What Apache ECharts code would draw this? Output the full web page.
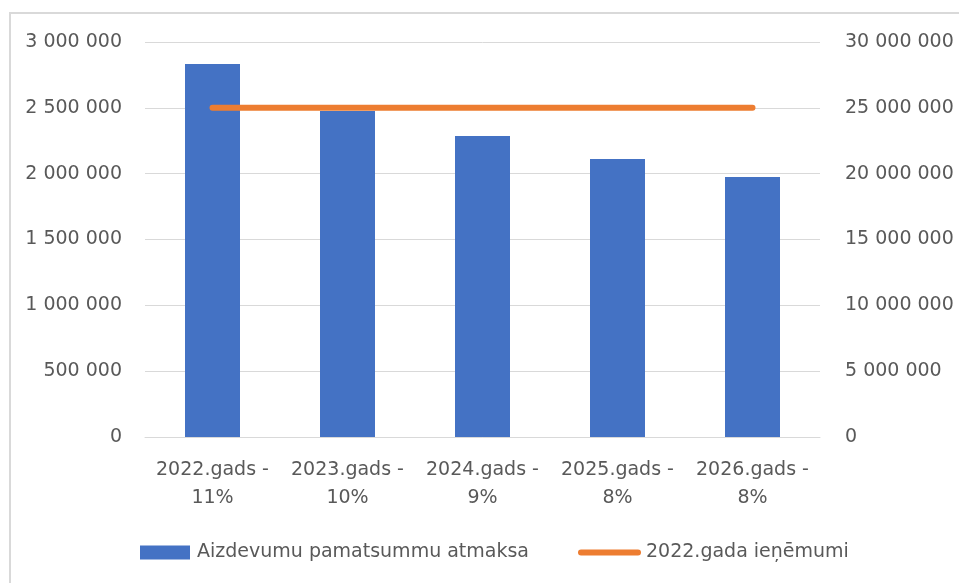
<!DOCTYPE html>
<html>
<head>
<meta charset="utf-8">
<script src="https://cdn.jsdelivr.net/npm/echarts@6/dist/echarts.min.js"></script>
<style>
  html, body { margin: 0; padding: 0; background: #fff; }
  #main { width: 959px; height: 583px; }
</style>
</head>
<body>
<div id="main"></div>
<script>
  // data
  var categories = ['2022.gads -\n11%', '2023.gads -\n10%', '2024.gads -\n9%', '2025.gads -\n8%', '2026.gads -\n8%'];
  var repayments = [2833000, 2476000, 2286000, 2111000, 1975000];
  var revenue2022 = [25000000, 25000000, 25000000, 25000000, 25000000];
  var seriesNames = ['Aizdevumu pamatsummu atmaksa', '2022.gada ieņēmumi'];

  var font = 'DejaVu Sans';
  var textColor = '#595959';
  var fs = 19;

  function spaced(v) {
    return String(v).replace(/\B(?=(\d{3})+(?!\d))/g, ' ');
  }

  var chart = echarts.init(document.getElementById('main'));
  chart.setOption({
    animation: false,
    textStyle: { fontFamily: font, color: textColor },
    graphic: [{
      type: 'polyline',
      shape: { points: [[10, 600], [10, 13], [980, 13]] },
      style: { fill: null, stroke: '#d9d9d9', lineWidth: 2 },
      silent: true
    }],
    grid: { left: 145, right: 139, top: 42, bottom: 146 },
    legend: [{
      top: 543,
      left: 140,
      padding: 0,
      itemWidth: 50,
      itemHeight: 14,
      textStyle: { fontFamily: font, fontSize: fs, color: textColor, padding: [0, 0, 0, 2] },
      data: [{ name: seriesNames[0], icon: 'rect' }]
    }, {
      top: 543,
      left: 578,
      padding: 0,
      itemWidth: 63,
      itemHeight: 6,
      textStyle: { fontFamily: font, fontSize: fs, color: textColor },
      data: [{ name: seriesNames[1], icon: 'path://M3,0 H60 A3,3 0 0 1 60,6 H3 A3,3 0 0 1 3,0 Z' }]
    }],
    xAxis: {
      type: 'category',
      data: categories,
      axisLine: { show: true, lineStyle: { color: '#d9d9d9' } },
      axisTick: { show: false },
      axisLabel: { interval: 0, fontFamily: font, fontSize: fs, color: textColor, lineHeight: 28, margin: 19 }
    },
    yAxis: [{
      type: 'value',
      min: 0, max: 3000000, interval: 500000,
      axisLine: { show: false },
      axisTick: { show: false },
      splitLine: { lineStyle: { color: '#d9d9d9', width: 1 } },
      axisLabel: { fontFamily: font, fontSize: fs, color: textColor, margin: 23, formatter: spaced }
    }, {
      type: 'value',
      min: 0, max: 30000000, interval: 5000000,
      axisLine: { show: false },
      axisTick: { show: false },
      splitLine: { show: false },
      axisLabel: { fontFamily: font, fontSize: fs, color: textColor, margin: 25, formatter: spaced }
    }],
    series: [{
      name: seriesNames[0],
      type: 'bar',
      data: repayments,
      barWidth: 55,
      itemStyle: { color: '#4472c4' }
    }, {
      name: seriesNames[1],
      type: 'line',
      yAxisIndex: 1,
      data: revenue2022,
      symbol: 'none',
      lineStyle: { color: '#ed7d31', width: 6, cap: 'round' },
      itemStyle: { color: '#ed7d31' }
    }]
  });
</script>
</body>
</html>
